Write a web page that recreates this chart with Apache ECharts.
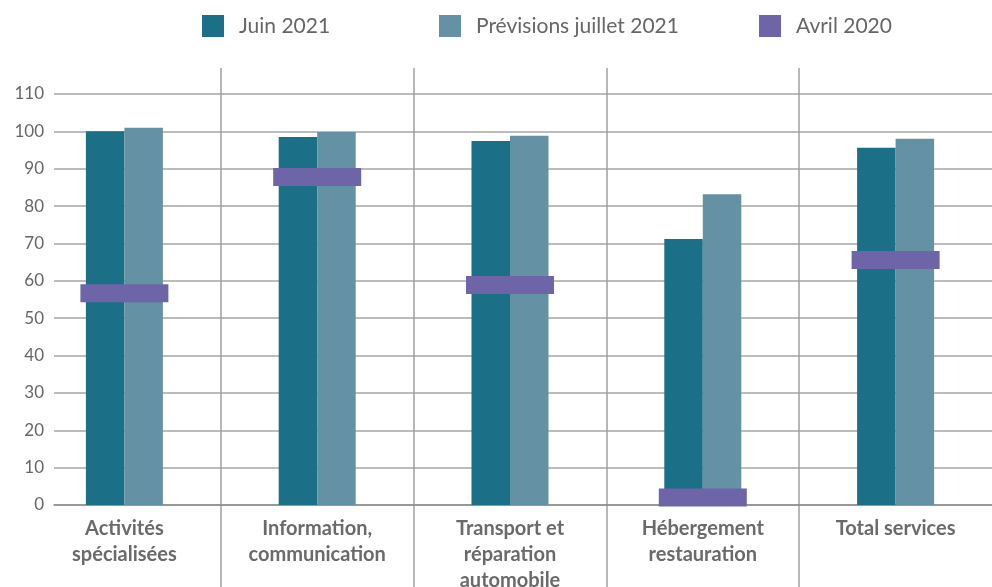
<!DOCTYPE html>
<html>
<head>
<meta charset="utf-8">
<script src="https://cdn.jsdelivr.net/npm/echarts@6/dist/echarts.min.js"></script>
<style>
  html, body { margin: 0; padding: 0; background: #fff; }
  #chart { width: 992px; height: 587px; }
</style>
</head>
<body>
<div id="chart"></div>
<script>
// données
const categories = [
    'Activités\nspécialisées',
    'Information,\ncommunication',
    'Transport et\nréparation\nautomobile',
    'Hébergement\nrestauration',
    'Total services'
];
const juin2021 = [100, 98.5, 97.4, 71.2, 95.6];
const previsionsJuillet = [101, 99.8, 98.8, 83.2, 98];
const avril2020 = [56.7, 87.8, 58.9, 2, 65.6];
const yTicks = { min: 0, max: 110, interval: 10 };

const seriesNames = ['Juin 2021', 'Prévisions juillet 2021', 'Avril 2020'];
const colors = ['#1b6f86', '#6591a4', '#6d65a8'];

// mise en page (px)
const zeroY = 505, topY = 94, bandTop = 68, chartH = 587;
const pxPerUnit = (zeroY - topY) / (yTicks.max - yTicks.min);
const bandMin = -(chartH - zeroY) / pxPerUnit;
const bandMax = (zeroY - bandTop) / pxPerUnit;

const chartDom = document.getElementById('chart');
const myChart = echarts.init(chartDom);
const font = 'Lato, "Open Sans", sans-serif';

const legendAt = (name, left) => ({
    data: [name],
    left: left,
    top: 15,
    padding: 0,
    icon: 'rect',
    itemWidth: 22,
    itemHeight: 22,
    selectedMode: false,
    textStyle: { fontFamily: font, fontSize: 21, color: '#666', padding: [0, 0, 0, 10] }
});

myChart.setOption({
    animation: false,
    textStyle: { fontFamily: font },
    legend: [
        legendAt(seriesNames[0], 202),
        legendAt(seriesNames[1], 439),
        legendAt(seriesNames[2], 759)
    ],
    grid: [
        // barres + séparateurs verticaux
        { left: 28, right: 0, top: bandTop, bottom: 0, outerBoundsMode: 'none' },
        // axe des valeurs + lignes horizontales
        { left: 54, right: 0, top: topY, bottom: chartH - zeroY, outerBoundsMode: 'none' }
    ],
    xAxis: [
        {
            type: 'category',
            gridIndex: 0,
            data: categories,
            offset: -(chartH - zeroY),
            axisLine: { show: false, onZero: false },
            axisTick: { show: false },
            axisLabel: {
                interval: 0,
                margin: 11,
                fontFamily: font,
                fontSize: 20,
                fontWeight: 'bold',
                lineHeight: 26,
                color: '#6a6a6a'
            },
            splitLine: {
                show: true,
                interval: 0,
                showMinLine: false,
                showMaxLine: false,
                lineStyle: { color: '#a0a0a0', width: 1.5 }
            }
        },
        {
            type: 'category',
            gridIndex: 1,
            data: categories,
            axisLine: { show: true, lineStyle: { color: '#8c8c8c', width: 1.5 } },
            axisTick: { show: false },
            axisLabel: { show: false },
            splitLine: { show: false }
        }
    ],
    yAxis: [
        {
            type: 'value',
            gridIndex: 0,
            min: bandMin,
            max: bandMax,
            show: false,
            splitLine: { show: false }
        },
        {
            type: 'value',
            gridIndex: 1,
            min: yTicks.min,
            max: yTicks.max,
            interval: yTicks.interval,
            axisLine: { show: false },
            axisTick: { show: false },
            axisLabel: { fontFamily: font, fontSize: 17, color: '#666', margin: 10 },
            splitLine: { lineStyle: { color: '#a6a6a6', width: 1.5 } }
        }
    ],
    series: [
        {
            name: seriesNames[0],
            type: 'bar',
            xAxisIndex: 0,
            yAxisIndex: 0,
            data: juin2021,
            barWidth: 38.5,
            barGap: '0%',
            itemStyle: { color: colors[0] }
        },
        {
            name: seriesNames[1],
            type: 'bar',
            xAxisIndex: 0,
            yAxisIndex: 0,
            data: previsionsJuillet,
            barWidth: 38.5,
            barGap: '0%',
            itemStyle: { color: colors[1] }
        },
        {
            name: seriesNames[2],
            type: 'scatter',
            xAxisIndex: 0,
            yAxisIndex: 0,
            data: avril2020,
            symbol: 'rect',
            symbolSize: [88, 18],
            z: 5,
            itemStyle: { color: colors[2], opacity: 1 }
        }
    ]
});

new ResizeObserver(() => myChart.resize()).observe(chartDom);
</script>
</body>
</html>
